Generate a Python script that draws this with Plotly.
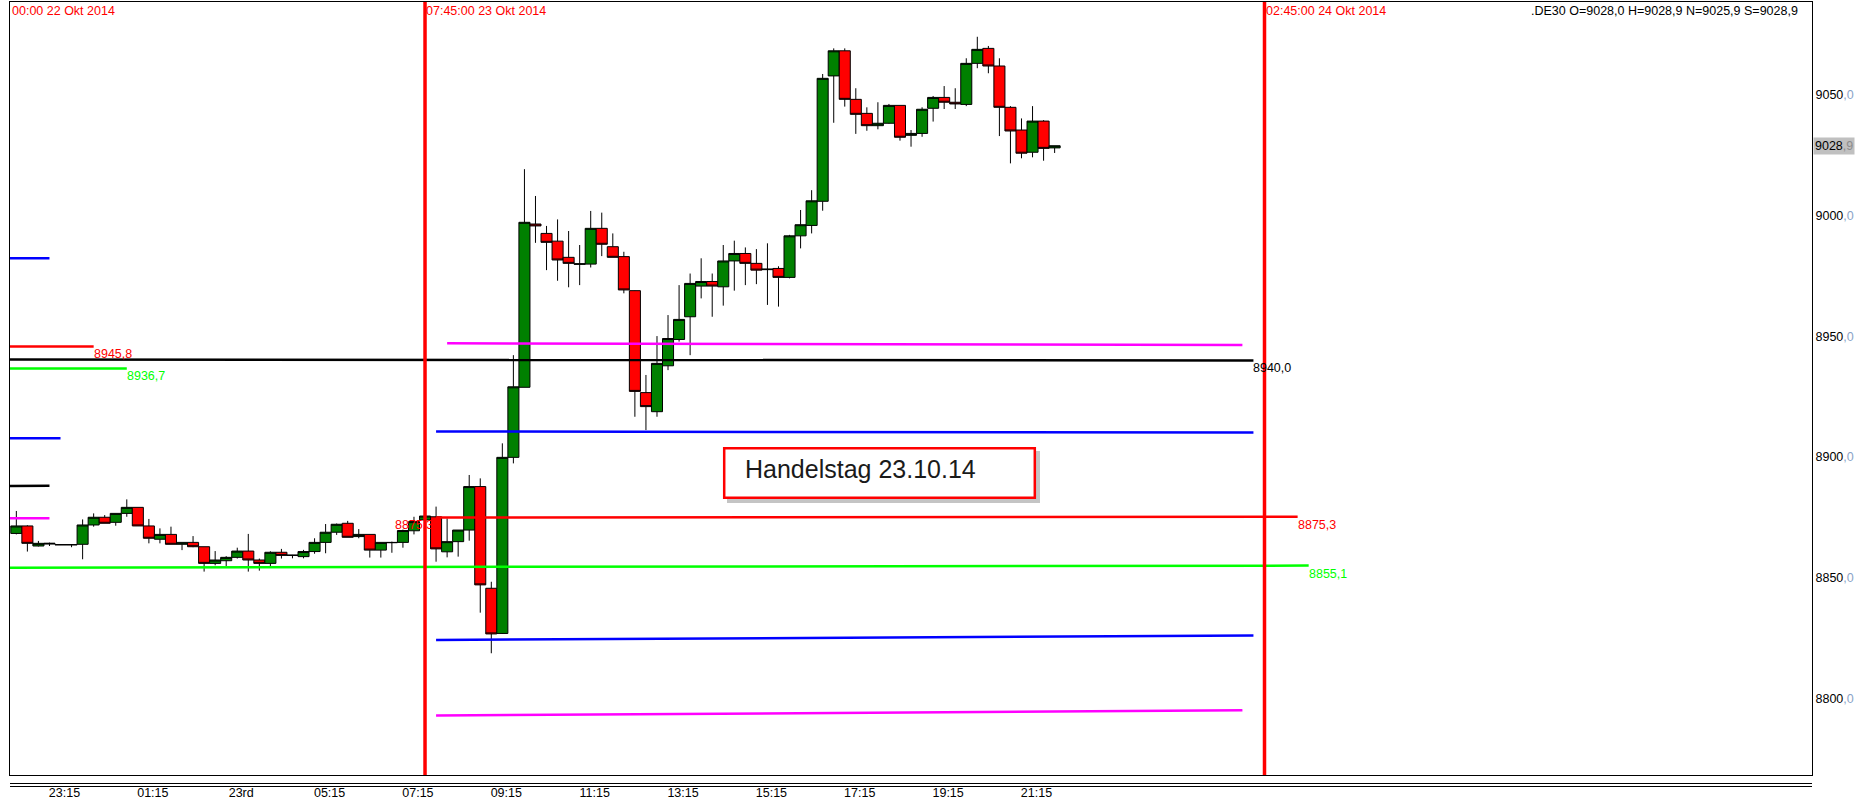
import plotly.graph_objects as go
import pandas as pd

# ---------------- data ----------------
first_candle = "2014-10-22 22:30"   # 15-minute candles

opens = [8868.4, 8871.5, 8863.2, 8864.0, 8863.8, 8863.8, 8863.9, 8871.9, 8875.1, 8873.0,
         8876.7, 8879.2, 8871.5, 8866.0, 8868.0, 8863.9, 8864.7, 8862.9, 8856.0, 8857.1,
         8858.5, 8861.1, 8857.4, 8856.0, 8860.6, 8859.3, 8858.8, 8860.9, 8864.7, 8868.9,
         8872.6, 8867.1, 8868.0, 8861.5, 8864.7, 8864.7, 8869.5, 8874.0,
         8875.3, 8860.8, 8865.0, 8869.8, 8887.8, 8845.7, 8827.0, 8899.9, 8928.9, 8996.5,
         8992.6, 8989.4, 8982.7, 8979.8, 8979.9, 8994.7, 8987.1, 8983.0, 8968.9, 8926.7,
         8918.8, 8937.8, 8948.7, 8958.1, 8970.8, 8972.7, 8970.5, 8981.2, 8984.3, 8980.2,
         8977.6, 8978.1, 8974.4, 8991.6, 8995.9, 9005.9, 9057.8, 9068.2, 9048.1, 9042.3,
         9037.2, 9038.2, 9045.6, 9033.2, 9034.0, 9044.4, 9048.9, 9046.9, 9046.0, 9063.0,
         9069.2, 9061.9, 9044.8, 9035.4, 9026.2, 9039.1, 9028.0]

highs = [8877.7, 8871.8, 8865.3, 8864.6, 8864.0, 8864.0, 8874.2, 8876.7, 8876.0, 8876.7,
         8882.5, 8879.2, 8874.4, 8870.5, 8871.2, 8864.7, 8867.3, 8862.9, 8861.1, 8859.0,
         8862.5, 8868.2, 8858.0, 8861.0, 8862.0, 8859.5, 8861.6, 8866.4, 8872.3, 8872.5,
         8873.6, 8870.2, 8868.0, 8864.7, 8865.0, 8870.0, 8875.3, 8879.3,
         8879.5, 8874.6, 8869.8, 8892.6, 8891.2, 8848.4, 8905.7, 8942.2, 9019.2, 9008.1,
         8995.7, 8998.4, 8993.6, 8987.8, 9001.9, 9001.2, 8992.6, 8985.0, 8969.0, 8934.0,
         8950.1, 8958.8, 8971.2, 8976.0, 8982.3, 8976.0, 8987.8, 8989.6, 8986.8, 8986.1,
         8988.5, 8979.0, 8992.0, 9002.3, 9010.5, 9058.6, 9069.2, 9069.2, 9052.7, 9044.8,
         9046.9, 9046.2, 9045.6, 9035.4, 9044.8, 9049.5, 9053.6, 9052.7, 9065.1, 9074.0,
         9070.2, 9065.1, 9045.3, 9040.2, 9045.3, 9039.5, 9028.9]

lows = [8868.0, 8860.9, 8863.0, 8863.2, 8863.6, 8862.7, 8857.7, 8871.2, 8872.6, 8871.6,
        8875.3, 8871.5, 8864.3, 8864.3, 8863.9, 8861.5, 8862.7, 8852.6, 8855.2, 8854.9,
        8858.0, 8852.6, 8853.0, 8854.6, 8858.0, 8858.1, 8858.1, 8860.0, 8860.2, 8867.8,
        8866.8, 8866.4, 8858.4, 8858.4, 8860.4, 8862.5, 8868.0, 8873.0,
        8856.7, 8858.5, 8858.8, 8865.4, 8835.6, 8818.8, 8826.8, 8897.4, 8928.9, 8988.7,
        8977.4, 8973.0, 8970.3, 8971.2, 8978.5, 8983.2, 8982.7, 8967.8, 8916.7, 8911.2,
        8916.7, 8936.0, 8947.8, 8942.2, 8965.7, 8958.1, 8962.7, 8968.9, 8971.2, 8971.6,
        8963.0, 8962.3, 8974.0, 8986.4, 8992.6, 9002.0, 9038.4, 9045.1, 9033.8, 9035.1,
        9035.7, 9038.0, 9031.0, 9028.5, 9032.6, 9038.9, 9044.1, 9044.1, 9045.3, 9061.0,
        9058.9, 9032.9, 9021.6, 9023.7, 9024.1, 9022.7, 9025.9]

closes = [8871.5, 8864.3, 8864.3, 8864.3, 8863.7, 8863.7, 8871.9, 8875.1, 8872.6, 8876.7,
          8879.2, 8871.5, 8866.4, 8868.0, 8863.9, 8864.7, 8862.9, 8856.0, 8857.4, 8858.5,
          8861.1, 8857.4, 8856.0, 8860.6, 8859.3, 8859.4, 8860.9, 8864.7, 8868.9, 8872.2,
          8866.8, 8868.0, 8861.5, 8864.7, 8864.6, 8869.6, 8873.3, 8875.6,
          8862.0, 8865.0, 8869.8, 8887.8, 8847.1, 8826.8, 8899.9, 8929.1, 8997.2, 8995.7,
          8988.9, 8981.6, 8980.2, 8980.0, 8994.7, 8988.1, 8982.7, 8969.2, 8927.2, 8920.9,
          8938.8, 8949.1, 8957.0, 8971.9, 8972.7, 8970.8, 8981.2, 8984.3, 8980.2, 8977.4,
          8977.8, 8974.4, 8991.6, 8996.2, 9006.1, 9056.8, 9068.2, 9048.1, 9041.9, 9037.2,
          9038.2, 9045.6, 9032.4, 9034.0, 9044.0, 9048.9, 9046.9, 9046.2, 9063.0, 9068.8,
          9061.9, 9044.8, 9035.0, 9025.8, 9039.1, 9027.8, 9028.9]

# horizontal level lines (start time, end time, start value, end value, colour)
level_start = ["2014-10-22 00:00", "2014-10-22 00:00", "2014-10-22 00:00", "2014-10-22 00:00",
               "2014-10-22 00:00", "2014-10-22 00:00", "2014-10-22 00:00", "2014-10-22 00:00",
               "2014-10-23 08:00", "2014-10-23 08:15", "2014-10-23 08:00", "2014-10-23 08:00",
               "2014-10-23 08:00"]
level_end = ["2014-10-22 23:15", "2014-10-23 00:15", "2014-10-23 01:00", "2014-10-22 23:30",
             "2014-10-22 23:15", "2014-10-22 23:15", "2014-10-24 02:30", "2014-10-24 03:45",
             "2014-10-24 03:30", "2014-10-24 02:15", "2014-10-24 02:30", "2014-10-24 02:30",
             "2014-10-24 02:15"]
level_from = [8982.3, 8945.8, 8936.7, 8907.8, 8887.7, 8874.7, 8940.7, 8853.6,
              8875.0, 8947.1, 8910.6, 8824.3, 8793.0]
level_to = [8982.3, 8945.8, 8936.7, 8907.8, 8888.1, 8874.7, 8940.0, 8855.1,
            8875.3, 8946.4, 8910.2, 8826.2, 8795.2]
level_colors = ["#0000ff", "#ff0000", "#00ff00", "#0000ff", "#000000", "#ff00ff", "#000000",
                "#00ff00", "#ff0000", "#ff00ff", "#0000ff", "#0000ff", "#ff00ff"]

# price labels attached to the level lines
label_text = ["8945,8", "8936,7", "8940,0", "8875,3", "8855,1", "8875,3"]
label_time = ["2014-10-23 00:15", "2014-10-23 01:00", "2014-10-24 02:30",
              "2014-10-24 03:30", "2014-10-24 03:45", "2014-10-23 08:00"]
label_value = [8945.8, 8936.7, 8940.0, 8875.3, 8855.1, 8875.0]
label_color = ["#ff0000", "#00ff00", "#000000", "#ff0000", "#00ff00", "#ff0000"]
label_side = ["left", "left", "left", "left", "left", "right"]

# vertical session markers
marker_time = ["2014-10-23 07:45", "2014-10-24 02:45"]
marker_text = ["07:45:00 23 Okt 2014", "02:45:00 24 Okt 2014"]
left_marker_text = "00:00 22 Okt 2014"

# axis ticks
xtick_vals = ["2014-10-22 23:15", "2014-10-23 01:15", "2014-10-23 03:15", "2014-10-23 05:15",
              "2014-10-23 07:15", "2014-10-23 09:15", "2014-10-23 11:15", "2014-10-23 13:15",
              "2014-10-23 15:15", "2014-10-23 17:15", "2014-10-23 19:15", "2014-10-23 21:15"]
xtick_text = ["23:15", "01:15", "23rd", "05:15", "07:15", "09:15", "11:15", "13:15",
              "15:15", "17:15", "19:15", "21:15"]
ytick_vals = [8800, 8850, 8900, 8950, 9000, 9050]

last_price = 9028.9
header_text = ".DE30 O=9028,0 H=9028,9 N=9025,9 S=9028,9"
box_text = "Handelstag 23.10.14"

# ---------------- layout geometry ----------------
W, H = 1857, 803
PL, PR, PT, PB = 10, 1812, 2, 775          # plot area in pixels
x_range = ["2014-10-22 22:21:24", "2014-10-24 15:08:30"]
y_range = [8768.4, 9088.4]
FONT = "Arial, Liberation Sans, sans-serif"


def px_x(px):
    return (px - PL) / (PR - PL)


def px_y(py):
    return (PB - py) / (PB - PT)


times = pd.date_range(first_candle, periods=len(opens), freq="15min")

fig = go.Figure()

fig.add_trace(go.Candlestick(
    x=times, open=opens, high=highs, low=lows, close=closes,
    increasing=dict(fillcolor="#008000", line=dict(color="#000000", width=1)),
    decreasing=dict(fillcolor="#ff0000", line=dict(color="#000000", width=1)),
    whiskerwidth=0, hoverinfo="skip", showlegend=False,
))

for t0, t1, v0, v1, c in zip(level_start, level_end, level_from, level_to, level_colors):
    fig.add_trace(go.Scatter(
        x=[t0, t1], y=[v0, v1], mode="lines",
        line=dict(color=c, width=2.5), hoverinfo="skip", showlegend=False,
    ))

annotations = []
for txt, t, v, c, side in zip(label_text, label_time, label_value, label_color, label_side):
    annotations.append(dict(
        x=t, y=v, xref="x", yref="y", text=txt, showarrow=False,
        xanchor=side, yanchor="middle", yshift=-8, xshift=-2 if side == "left" else -1,
        font=dict(family=FONT, size=12.5, color=c),
    ))

for t, txt in zip(marker_time, marker_text):
    annotations.append(dict(
        x=t, y=px_y(10.5), xref="x", yref="paper", text=txt, showarrow=False,
        xanchor="left", yanchor="middle", xshift=-1,
        font=dict(family=FONT, size=12.5, color="#ff0000"),
    ))
annotations.append(dict(
    x=px_x(10), y=px_y(10.5), xref="paper", yref="paper", text=left_marker_text,
    showarrow=False, xanchor="left", yanchor="middle",
    font=dict(family=FONT, size=12.5, color="#ff0000"),
))
annotations.append(dict(
    x=px_x(1800), y=px_y(10.5), xref="paper", yref="paper", text=header_text,
    showarrow=False, xanchor="right", yanchor="middle",
    font=dict(family=FONT, size=12.5, color="#000000"),
))

# current price tag on the price axis
lp_int, lp_dec = f"{last_price:.1f}".split(".")
annotations.append(dict(
    x=1, y=last_price, xref="paper", yref="y",
    text=f"{lp_int}<span style='color:#8c8c8c'>,{lp_dec}</span>",
    showarrow=False, xanchor="left", yanchor="middle", xshift=1,
    bgcolor="#c0c0c0", borderpad=1,
    font=dict(family=FONT, size=12.5, color="#000000"),
))

# text box
annotations.append(dict(
    x=px_x(743), y=px_y(468.5), xref="paper", yref="paper", text=box_text,
    showarrow=False, xanchor="left", yanchor="middle",
    font=dict(family=FONT, size=25, color="#1a1a1a"),
))

shapes = []
for t in marker_time:
    shapes.append(dict(type="line", xref="x", yref="paper", x0=t, x1=t, y0=0, y1=1,
                       line=dict(color="#ff0000", width=3.5), layer="above"))
# box shadow + box
shapes.append(dict(type="rect", xref="paper", yref="paper",
                   x0=px_x(727), x1=px_x(1040), y0=px_y(503), y1=px_y(451),
                   fillcolor="#c4c4c4", line=dict(width=0), layer="above"))
shapes.append(dict(type="rect", xref="paper", yref="paper",
                   x0=px_x(724.2), x1=px_x(1034.8), y0=px_y(497.8), y1=px_y(448.2),
                   fillcolor="#ffffff", line=dict(color="#ff0000", width=2.5), layer="above"))
# double separator line under the chart
for py in (783.5, 786.5):
    shapes.append(dict(type="line", xref="paper", yref="paper", x0=0, x1=1,
                       y0=px_y(py), y1=px_y(py), line=dict(color="#000000", width=1)))

ytick_text = [f"{int(v)}<span style='color:#8aa4c8'>,0</span>" for v in ytick_vals]

fig.update_layout(
    width=W, height=H, autosize=False,
    margin=dict(l=PL, r=W - PR, t=PT, b=H - PB, pad=0),
    paper_bgcolor="#ffffff", plot_bgcolor="#ffffff",
    showlegend=False, boxgap=0, boxgroupgap=0,
    annotations=annotations, shapes=shapes,
    xaxis=dict(
        type="date", range=x_range, rangeslider=dict(visible=False),
        showgrid=False, zeroline=False, showline=True, mirror=True,
        linecolor="#000000", linewidth=1, ticks="",
        tickmode="array", tickvals=xtick_vals, ticktext=xtick_text,
        ticklabelshift=15, ticklabelstandoff=6,
        tickfont=dict(family=FONT, size=12.5, color="#000000"),
    ),
    yaxis=dict(
        range=y_range, side="right", showgrid=False, zeroline=False,
        showline=True, mirror=True, linecolor="#000000", linewidth=1, ticks="",
        tickmode="array", tickvals=ytick_vals, ticktext=ytick_text,
        tickfont=dict(family=FONT, size=12.5, color="#000000"),
    ),
)

fig.write_html(
    "out.html",
    config={"displayModeBar": False, "staticPlot": False},
    post_script="document.body.style.margin='0';document.body.style.overflow='hidden';",
)
